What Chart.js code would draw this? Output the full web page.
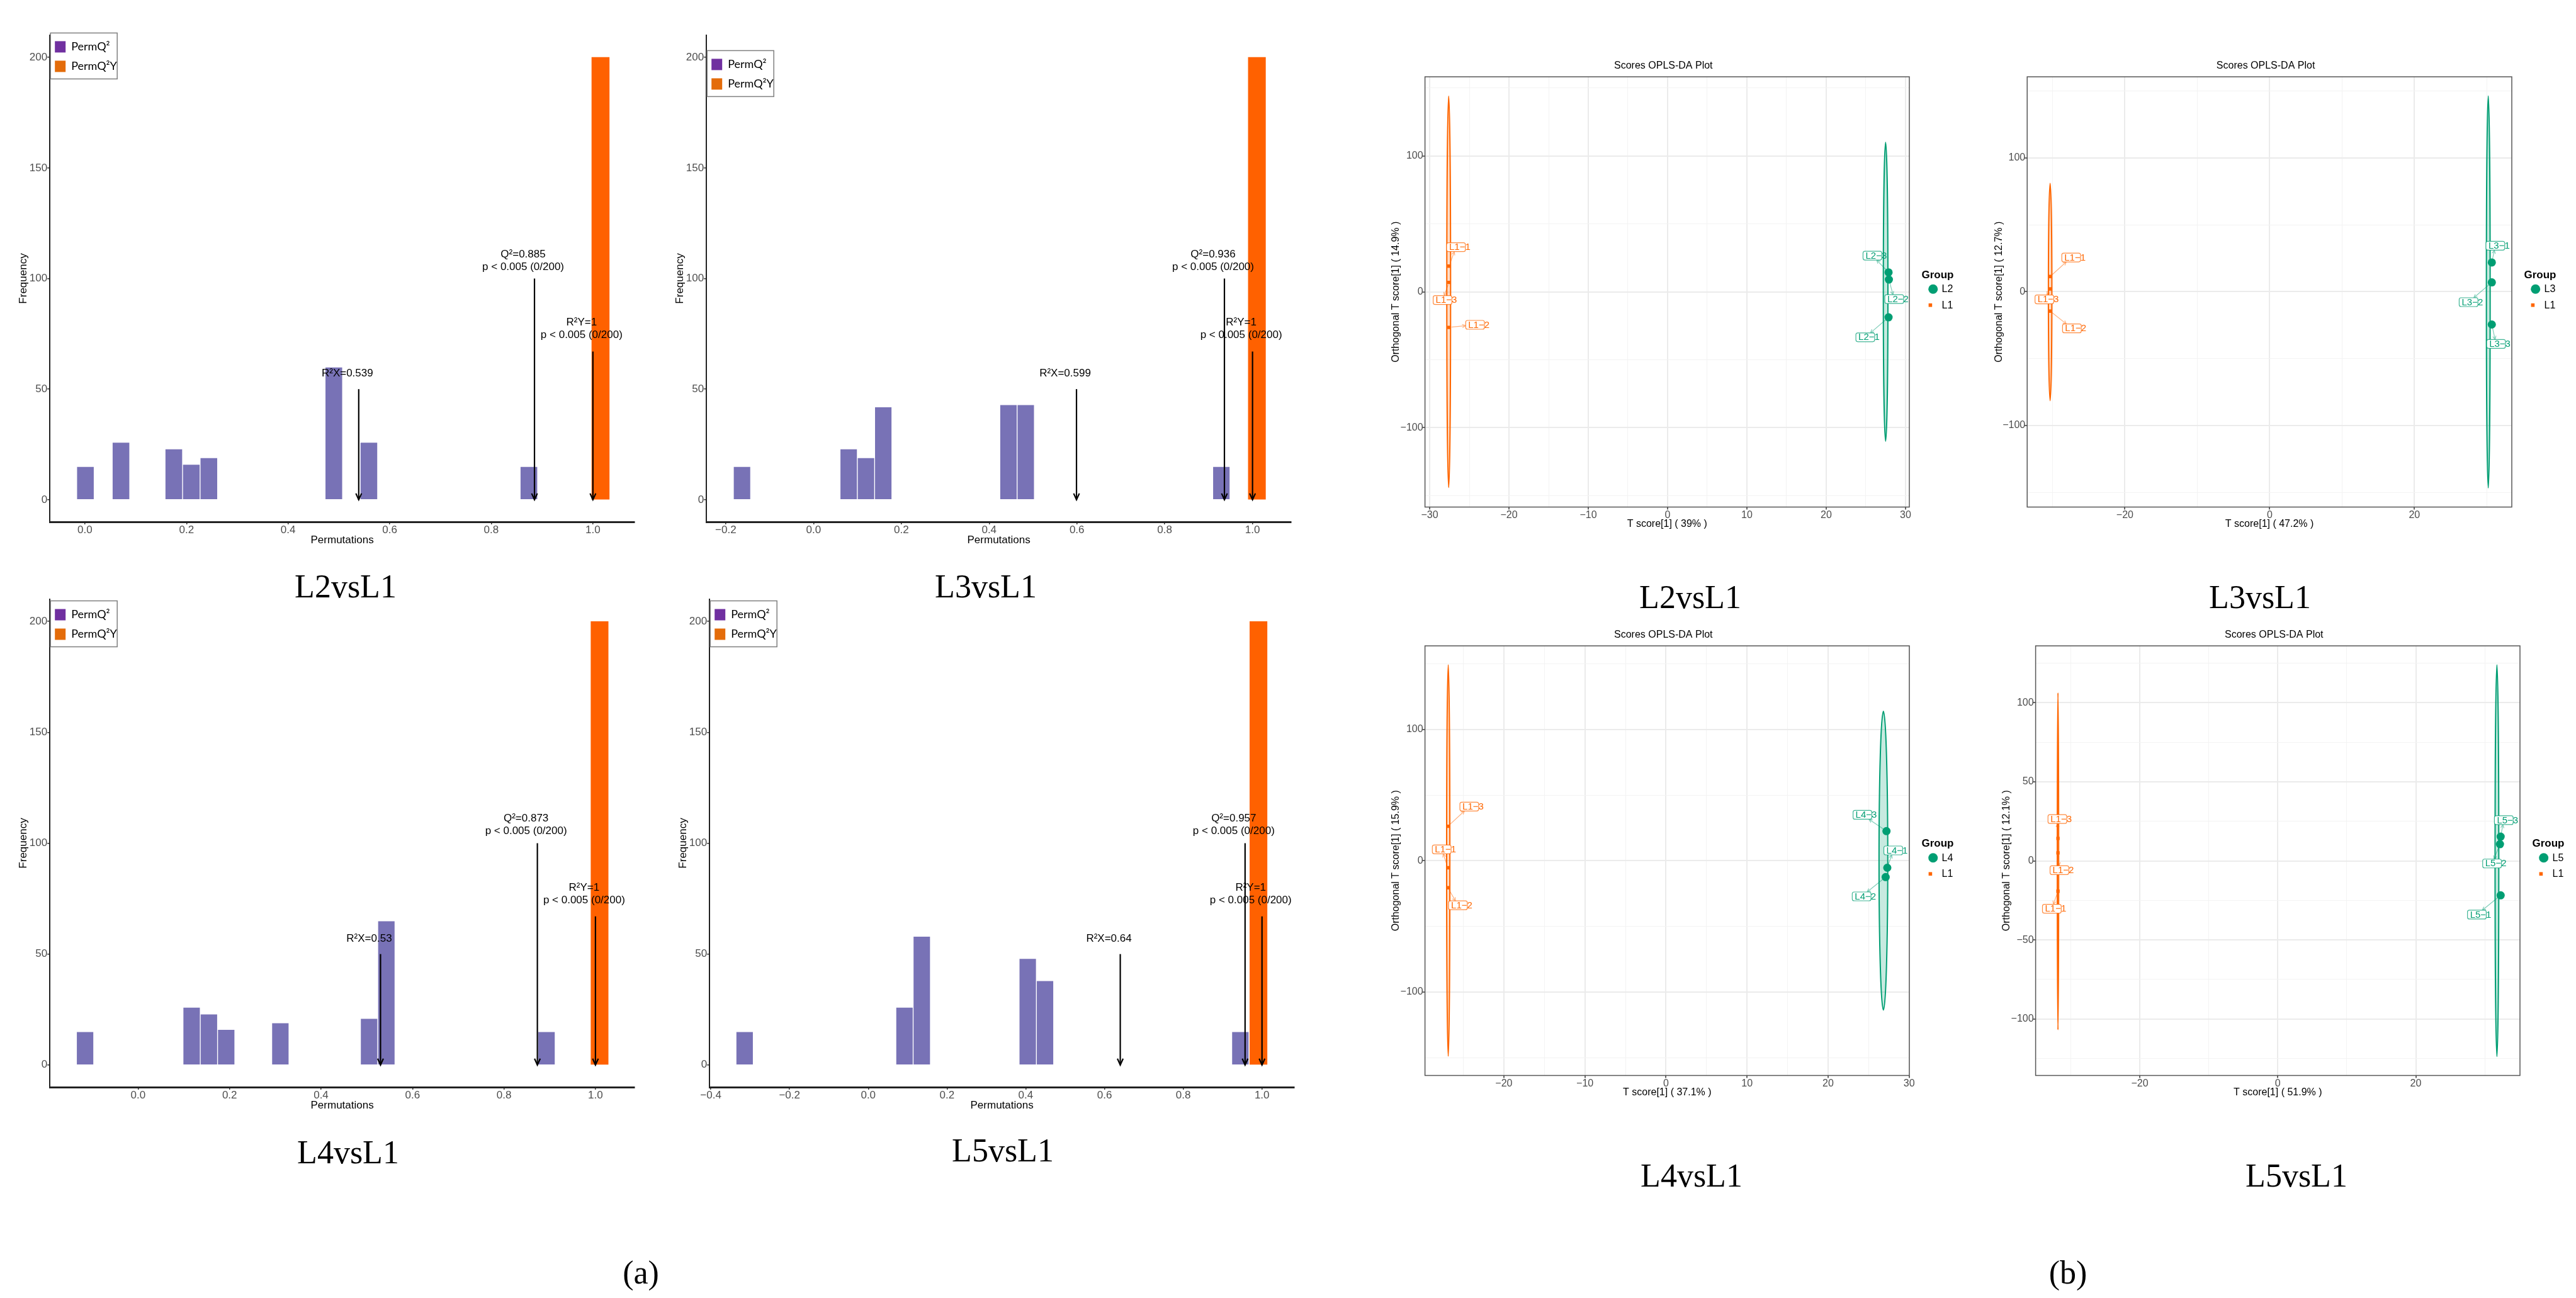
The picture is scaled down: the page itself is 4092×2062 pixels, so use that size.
<!DOCTYPE html>
<html lang="en">
<head>
<meta charset="UTF-8">
<title>Permutation tests and OPLS-DA score plots</title>
<script src="https://cdn.jsdelivr.net/npm/chart.js"></script>
<style>
  html, body { margin: 0; padding: 0; background: #fff; }
  body { width: 4092px; height: 2062px; position: relative; overflow: hidden; }
  .box { position: absolute; }
  .cap { position: absolute; transform: translate(-50%, -50%); font-family: "Liberation Serif", "Times New Roman", serif;
         font-size: 52px; line-height: 1; color: #000; white-space: nowrap; }
</style>
</head>
<body>

<!-- panel captions -->
<div class="cap" style="left:549px;top:932px">L2vsL1</div>
<div class="cap" style="left:1566px;top:932px">L3vsL1</div>
<div class="cap" style="left:553px;top:1831px">L4vsL1</div>
<div class="cap" style="left:1593px;top:1828px">L5vsL1</div>
<div class="cap" style="left:2685px;top:949px">L2vsL1</div>
<div class="cap" style="left:3590px;top:949px">L3vsL1</div>
<div class="cap" style="left:2687px;top:1868px">L4vsL1</div>
<div class="cap" style="left:3648px;top:1868px">L5vsL1</div>
<div class="cap" style="left:1018px;top:2022px">(a)</div>
<div class="cap" style="left:3285px;top:2022px">(b)</div>

<script>
// ---------- (a) permutation test histograms ----------
const permSeries = ['PermQ²', 'PermQ²Y'];
const pPerm = 'p < 0.005 (0/200)';

// PermQ2 bin centres and frequencies
const l2Bins = [0.001, 0.071, 0.175, 0.2095, 0.244, 0.490, 0.559, 0.874];
const l2Counts = [15, 26, 23, 16, 19, 60, 26, 15];
const l3Bins = [-0.163, 0.080, 0.1194, 0.1588, 0.444, 0.4834, 0.929];
const l3Counts = [15, 23, 19, 42, 43, 43, 15];
const l4Bins = [-0.116, 0.117, 0.1548, 0.1926, 0.311, 0.505, 0.5428, 0.893];
const l4Counts = [15, 26, 23, 16, 19, 21, 65, 15];
const l5Bins = [-0.314, 0.092, 0.1359, 0.405, 0.4489, 0.945];
const l5Counts = [15, 26, 58, 48, 38, 15];

// PermQ2Y bar (L2, L3, L4, L5 vs L1)
const q2yBins = [1.015, 1.010, 1.009, 0.991];
const q2yCounts = [200, 200, 200, 200];

// model statistics (arrows)
const r2x = [0.539, 0.599, 0.53, 0.64];
const q2 = [0.885, 0.936, 0.873, 0.957];
const r2y = [1, 1, 1, 1];
const arrowTops = [50, 100, 67];
const labelYs = [57, 111, 80];

// ---------- (b) OPLS-DA scores ----------
const green = '#009E73';
const orange = '#FF6600';
const l1Names = ['L1-1', 'L1-2', 'L1-3'];

// L2 vs L1
const p2Names = ['L2-1', 'L2-2', 'L2-3'];
const p2T = [27.86, 27.90, 27.86];
const p2O = [-18.8, 9.0, 14.3];
const p2LabT = [25.4, 29.05, 26.3];
const p2LabO = [-33.5, -5.4, 26.6];
const p2L1T = [-27.56, -27.56, -27.56];
const p2L1O = [18.9, -26.2, 6.9];
const p2L1LabT = [-26.2, -23.8, -27.9];
const p2L1LabO = [32.8, -24.3, -6.1];
const p2Ell = [27.49, 0, 0.29, 110];
const p2L1Ell = [-27.6, 0, 0.24, 144];

// L3 vs L1
const p3Names = ['L3-1', 'L3-2', 'L3-3'];
const p3T = [30.69, 30.69, 30.69];
const p3O = [21.9, 7.0, -24.5];
const p3LabT = [31.7, 28.0, 31.8];
const p3LabO = [34.4, -7.8, -39];
const p3L1T = [-30.32, -30.32, -30.32];
const p3L1O = [11.4, -14.5, 2.1];
const p3L1LabT = [-26.9, -26.8, -30.6];
const p3L1LabO = [25.6, -27.4, -5.7];
const p3Ell = [30.2, -0.2, 0.26, 146.5];
const p3L1Ell = [-30.33, -0.2, 0.24, 81.2];

// L4 vs L1
const p4Names = ['L4-1', 'L4-2', 'L4-3'];
const p4T = [27.3, 27.1, 27.2];
const p4O = [-5.3, -12.4, 22.6];
const p4LabT = [28.5, 24.6, 24.7];
const p4LabO = [7.9, -27.1, 35];
const p4L1T = [-26.9, -26.9, -26.9];
const p4L1O = [-5.3, -20.5, 26.3];
const p4L1LabT = [-27.2, -25.2, -23.8];
const p4L1LabO = [8.7, -33.9, 41.3];
const p4Ell = [26.82, 0.1, 0.54, 113.7];
const p4L1Ell = [-26.86, 0.2, 0.2, 149];

// L5 vs L1
const p5Names = ['L5-1', 'L5-2', 'L5-3'];
const p5T = [32.3, 32.2, 32.3];
const p5O = [-21.8, 10.5, 15.3];
const p5LabT = [29.4, 31.6, 33.3];
const p5LabO = [-34, -1.7, 25.7];
const p5L1T = [-31.86, -31.86, -31.86];
const p5L1O = [-19.2, 5.0, 14.2];
const p5L1LabT = [-32.2, -31.1, -31.4];
const p5L1LabO = [-30.3, -5.9, 26.4];
const p5Ell = [31.76, 0.1, 0.27, 123.8];
const p5L1Ell = [-31.86, -0.3, 0.1, 106.5];


Chart.defaults.font.family = '"Liberation Sans", Arial, sans-serif';
Chart.defaults.color = '#4D4D4D';
Chart.defaults.animation = false;
Chart.defaults.responsive = true;
Chart.defaults.maintainAspectRatio = false;
Chart.defaults.plugins.legend.display = false;
Chart.defaults.plugins.tooltip.enabled = false;

const minus = v => (v < 0 ? '\u2212' : '');

function alpha(hex, a) {
    const n = parseInt(hex.slice(1), 16);
    return `rgba(${n >> 16},${(n >> 8) & 255},${n & 255},${a})`;
}

// place a canvas so that the chart area lands on [L, T, R, B]
function mount(area, yw, xh, pad) {
    const [L, T, R, B] = area;
    const box = document.createElement('div');
    box.className = 'box';
    box.style.left = Math.round(L - yw - pad.left) + 'px';
    box.style.top = Math.round(T - pad.top) + 'px';
    box.style.width = Math.round(R - L + yw + pad.left + pad.right) + 'px';
    box.style.height = Math.round(B - T + xh + pad.top + pad.bottom) + 'px';
    const canvas = document.createElement('canvas');
    box.appendChild(canvas);
    document.body.appendChild(box);
    return canvas;
}


// ---------- histograms ----------
function permPlugin(p) {
    return {
        id: 'permNotes',
        afterDatasetsDraw(chart) {
            const { ctx, scales: { x, y } } = chart;
            const xs = [r2x[p.k], q2[p.k], r2y[p.k]];
            const texts = [
                ['R²X=' + r2x[p.k]],
                ['Q²=' + q2[p.k], pPerm],
                ['R²Y=' + r2y[p.k], pPerm]
            ];
            ctx.save();
            ctx.strokeStyle = '#000';
            ctx.fillStyle = '#000';
            ctx.lineWidth = 2.2;
            ctx.font = '17px "Liberation Sans"';
            ctx.textAlign = 'center';
            ctx.textBaseline = 'middle';
            xs.forEach((v, i) => {
                const px = x.getPixelForValue(v);
                const top = y.getPixelForValue(arrowTops[i]);
                const tip = y.getPixelForValue(0);
                ctx.beginPath();
                ctx.moveTo(px, top);
                ctx.lineTo(px, tip);
                ctx.stroke();
                ctx.beginPath();
                ctx.moveTo(px - 4.5, tip - 10);
                ctx.lineTo(px, tip);
                ctx.lineTo(px + 4.5, tip - 10);
                ctx.stroke();
                const ly = y.getPixelForValue(labelYs[i]);
                texts[i].forEach((t, j) => ctx.fillText(t, px - 18, ly + j * 20));
            });
            ctx.restore();
        },
        afterDraw(chart) {
            const { ctx, chartArea: a } = chart;
            const bx = a.left + 1, by = a.top + p.legendDy;
            ctx.save();
            ctx.fillStyle = '#fff';
            ctx.fillRect(bx, by, 106, 73);
            ctx.strokeStyle = '#7F7F7F';
            ctx.lineWidth = 1.5;
            ctx.strokeRect(bx, by, 106, 73);
            ctx.fillStyle = '#7030A0';
            ctx.fillRect(bx + 7, by + 13, 17, 18);
            ctx.fillStyle = '#E46C0A';
            ctx.fillRect(bx + 7, by + 44, 17, 18);
            ctx.fillStyle = '#000';
            ctx.font = '18px Lato';
            ctx.textAlign = 'left';
            ctx.textBaseline = 'middle';
            ctx.fillText(permSeries[0], bx + 33, by + 22);
            ctx.fillText(permSeries[1], bx + 33, by + 53);
            ctx.restore();
        }
    };
}

function permChart(p) {
    const yw = 52.2, xh = 40;
    const pad = { left: 0, top: 12, right: 12, bottom: 2 };
    const canvas = mount(p.area, yw, xh, pad);
    const ticksGrid = { display: true, drawOnChartArea: false, offset: false, tickLength: 4, color: '#333', lineWidth: 1.5 };
    new Chart(canvas, {
        type: 'bar',
        data: {
            datasets: [{
                label: permSeries[0],
                data: p.bins.map((b, i) => ({ x: b, y: p.counts[i] })),
                backgroundColor: '#7872B6',
                borderColor: 'rgba(255,255,255,0.7)',
                borderWidth: 1,
                grouped: false,
                barPercentage: 1,
                categoryPercentage: 1
            }, {
                label: permSeries[1],
                data: [{ x: q2yBins[p.k], y: q2yCounts[p.k] }],
                backgroundColor: '#FF6100',
                borderWidth: 0,
                grouped: false,
                barPercentage: 1,
                categoryPercentage: 1
            }]
        },
        options: {
            layout: { padding: pad },
            scales: {
                x: {
                    type: 'linear', min: p.range[0], max: p.range[1], offset: false,
                    grid: ticksGrid,
                    border: { display: true, color: '#222', width: 3 },
                    ticks: {
                        stepSize: 0.2, includeBounds: false, autoSkip: false, maxRotation: 0, padding: -1,
                        color: '#4D4D4D', font: { size: 17 },
                        callback: v => minus(v) + Math.abs(v).toFixed(1)
                    },
                    title: { display: true, text: 'Permutations', color: '#000', font: { size: 17 }, padding: 0 },
                    afterFit: s => { s.height = xh; }
                },
                y: {
                    min: -10, max: 210,
                    grid: ticksGrid,
                    border: { display: true, color: '#222', width: 2 },
                    ticks: { stepSize: 50, includeBounds: false, padding: 0, color: '#4D4D4D', font: { size: 17 } },
                    title: { display: true, text: 'Frequency', color: '#000', font: { size: 17 }, padding: 0 },
                    afterFit: s => { s.width = yw; }
                }
            }
        },
        plugins: [permPlugin(p)]
    });
}

permChart({ k: 0, area: [79, 55.6, 1008, 829], bins: l2Bins, counts: l2Counts, range: [-0.069, 1.082], legendDy: -3.6 });
permChart({ k: 1, area: [1122, 55.6, 2051, 829], bins: l3Bins, counts: l3Counts, range: [-0.244, 1.088], legendDy: 24.4 });
permChart({ k: 2, area: [79, 952, 1008, 1727], bins: l4Bins, counts: l4Counts, range: [-0.193, 1.0855], legendDy: 2.5 });
permChart({ k: 3, area: [1127, 952, 2056, 1727], bins: l5Bins, counts: l5Counts, range: [-0.403, 1.082], legendDy: 2.5 });


// ---------- score plots ----------
function gridAxis(range, step, major, title, fit) {
    const isMajor = v => Math.abs(v / major - Math.round(v / major)) < 1e-6;
    return {
        type: 'linear', min: range[0], max: range[1],
        border: { display: false },
        grid: {
            color: c => isMajor(c.tick.value) ? '#EBEBEB' : '#F3F3F3',
            lineWidth: c => isMajor(c.tick.value) ? 2 : 1,
            tickColor: c => isMajor(c.tick.value) ? '#333' : 'rgba(0,0,0,0)',
            tickLength: 4,
            tickWidth: 1.5
        },
        ticks: {
            stepSize: step, includeBounds: false, autoSkip: false, maxRotation: 0, padding: -1,
            color: '#4D4D4D', font: { size: 16 },
            callback: v => isMajor(v) ? minus(v) + Math.abs(Math.round(v)) : ''
        },
        title: { display: true, text: title, color: '#000', font: { size: 16 }, padding: 0 },
        afterFit: fit
    };
}

function scorePlugin(p) {
    const groups = [
        { names: p.names, t: p.t, o: p.o, lt: p.labT, lo: p.labO, ell: p.ell, col: green },
        { names: l1Names, t: p.l1T, o: p.l1O, lt: p.l1LabT, lo: p.l1LabO, ell: p.l1Ell, col: orange }
    ];
    return {
        id: 'scoreMarks',
        beforeDatasetsDraw(chart) {
            const { ctx, scales: { x, y } } = chart;
            ctx.save();
            groups.forEach(g => {
                const [cx, cy, rx, ry] = g.ell;
                const px = x.getPixelForValue(cx), py = y.getPixelForValue(cy);
                const w = Math.abs(x.getPixelForValue(cx + rx) - px);
                const h = Math.abs(y.getPixelForValue(cy + ry) - py);
                ctx.beginPath();
                ctx.ellipse(px, py, Math.max(w, 0.6), h, 0, 0, Math.PI * 2);
                ctx.fillStyle = alpha(g.col, 0.22);
                ctx.fill();
                ctx.strokeStyle = g.col;
                ctx.lineWidth = 2;
                ctx.stroke();
            });
            ctx.restore();
        },
        afterDatasetsDraw(chart) {
            const { ctx, scales: { x, y } } = chart;
            ctx.save();
            ctx.font = '15px "Liberation Sans"';
            ctx.textAlign = 'center';
            ctx.textBaseline = 'middle';
            groups.forEach(g => g.names.forEach((n, i) => {
                const txt = n.replace('-', '\u2212');
                const tw = ctx.measureText(txt).width;
                const lx = x.getPixelForValue(g.lt[i]), ly = y.getPixelForValue(g.lo[i]);
                const bl = lx - tw / 2 - 4, br = lx + tw / 2 - 8, hh = 7;
                const bcx = (bl + br) / 2, hw = (br - bl) / 2;
                const px = x.getPixelForValue(g.t[i]), py = y.getPixelForValue(g.o[i]);
                // segment from the point to the label
                const dx = px - bcx, dy = py - ly;
                const s = Math.min(dx ? Math.abs(hw / dx) : Infinity, dy ? Math.abs(hh / dy) : Infinity);
                if (s < 1) {
                    const ex = bcx + dx * s, ey = ly + dy * s;
                    const len = Math.hypot(ex - px, ey - py);
                    const ux = (ex - px) / len, uy = (ey - py) / len;
                    ctx.strokeStyle = alpha(g.col, 0.5);
                    ctx.lineWidth = 1.2;
                    ctx.beginPath();
                    ctx.moveTo(px + ux * 4, py + uy * 4);
                    ctx.lineTo(ex, ey);
                    const ang = Math.atan2(uy, ux);
                    ctx.moveTo(ex - 6 * Math.cos(ang - 0.45), ey - 6 * Math.sin(ang - 0.45));
                    ctx.lineTo(ex, ey);
                    ctx.lineTo(ex - 6 * Math.cos(ang + 0.45), ey - 6 * Math.sin(ang + 0.45));
                    ctx.stroke();
                }
                ctx.beginPath();
                ctx.roundRect(bl, ly - hh, br - bl, hh * 2, 3);
                ctx.fillStyle = '#fff';
                ctx.fill();
                ctx.strokeStyle = alpha(g.col, 0.75);
                ctx.lineWidth = 1.2;
                ctx.stroke();
                ctx.fillStyle = g.col;
                ctx.fillText(txt, lx, ly + 0.5);
            }));
            ctx.restore();
        },
        afterDraw(chart) {
            const { ctx, chartArea: a } = chart;
            ctx.save();
            ctx.strokeStyle = '#555';
            ctx.lineWidth = 1.5;
            ctx.strokeRect(a.left, a.top, a.right - a.left, a.bottom - a.top);
            ctx.fillStyle = '#000';
            ctx.textAlign = 'center';
            ctx.textBaseline = 'middle';
            ctx.font = '16px "Liberation Sans"';
            ctx.fillText('Scores OPLS-DA Plot', (a.left + a.right) / 2 - 6, a.top - 17);
            const R = a.right, C = (a.top + a.bottom) / 2;
            ctx.font = 'bold 17px "Liberation Sans"';
            ctx.fillText('Group', R + 45, C - 26.5);
            ctx.fillStyle = green;
            ctx.beginPath();
            ctx.arc(R + 37.7, C - 4.5, 7.5, 0, Math.PI * 2);
            ctx.fill();
            ctx.fillStyle = orange;
            ctx.fillRect(R + 33.4 - 2.8, C + 21 - 2.8, 5.6, 5.6);
            ctx.fillStyle = '#000';
            ctx.font = '16px "Liberation Sans"';
            ctx.textAlign = 'left';
            ctx.fillText(p.grp, R + 51.5, C - 4);
            ctx.fillText('L1', R + 51.5, C + 21.5);
            ctx.restore();
        }
    };
}

function scoreChart(p) {
    const xh = 36.5;
    const pad = { left: 0, top: 40, right: p.padR, bottom: 2 };
    const canvas = mount(p.area, p.yw, xh, pad);
    new Chart(canvas, {
        type: 'scatter',
        data: {
            datasets: [{
                label: p.grp,
                data: p.t.map((v, i) => ({ x: v, y: p.o[i] })),
                pointStyle: 'circle', pointRadius: 6.5,
                pointBackgroundColor: green, pointBorderWidth: 0
            }, {
                label: 'L1',
                data: p.l1T.map((v, i) => ({ x: v, y: p.l1O[i] })),
                pointStyle: 'rect', pointRadius: 3.8,
                pointBackgroundColor: orange, pointBorderWidth: 0
            }]
        },
        options: {
            layout: { padding: pad },
            scales: {
                x: gridAxis(p.xr, p.xs, p.xm, 'T score[1] ( ' + p.tPct + ' )', s => { s.height = xh; }),
                y: gridAxis(p.yr, p.ys, p.ym, 'Orthogonal T score[1] ( ' + p.oPct + ' )', s => { s.width = p.yw; })
            }
        },
        plugins: [scorePlugin(p)]
    });
}

scoreChart({
    grp: 'L2', area: [2263.6, 122, 3033.1, 805.5], yw: 55.6, padR: 100,
    xr: [-30.59, 30.48], xs: 5, xm: 10, yr: [-158.4, 158.2], ys: 50, ym: 100, tPct: '39%', oPct: '14.9%',
    names: p2Names, t: p2T, o: p2O, labT: p2LabT, labO: p2LabO, ell: p2Ell,
    l1T: p2L1T, l1O: p2L1O, l1LabT: p2L1LabT, l1LabO: p2L1LabO, l1Ell: p2L1Ell
});
scoreChart({
    grp: 'L3', area: [3220.6, 122, 3990.1, 805.5], yw: 54.2, padR: 95,
    xr: [-33.5, 33.45], xs: 10, xm: 20, yr: [-161, 160.7], ys: 50, ym: 100, tPct: '47.2%', oPct: '12.7%',
    names: p3Names, t: p3T, o: p3O, labT: p3LabT, labO: p3LabO, ell: p3Ell,
    l1T: p3L1T, l1O: p3L1O, l1LabT: p3L1LabT, l1LabO: p3L1LabO, l1Ell: p3L1Ell
});
scoreChart({
    grp: 'L4', area: [2263.6, 1025.8, 3033.1, 1708.7], yw: 55.6, padR: 100,
    xr: [-29.73, 30.02], xs: 5, xm: 10, yr: [-163.5, 163.7], ys: 50, ym: 100, tPct: '37.1%', oPct: '15.9%',
    names: p4Names, t: p4T, o: p4O, labT: p4LabT, labO: p4LabO, ell: p4Ell,
    l1T: p4L1T, l1O: p4L1O, l1LabT: p4L1LabT, l1LabO: p4L1LabO, l1Ell: p4L1Ell
});
scoreChart({
    grp: 'L5', area: [3234, 1025.8, 4003.6, 1708.7], yw: 55.6, padR: 85,
    xr: [-35.1, 35.1], xs: 10, xm: 20, yr: [-135.7, 135.9], ys: 25, ym: 50, tPct: '51.9%', oPct: '12.1%',
    names: p5Names, t: p5T, o: p5O, labT: p5LabT, labO: p5LabO, ell: p5Ell,
    l1T: p5L1T, l1O: p5L1O, l1LabT: p5L1LabT, l1LabO: p5L1LabO, l1Ell: p5L1Ell
});
</script>
</body>
</html>
